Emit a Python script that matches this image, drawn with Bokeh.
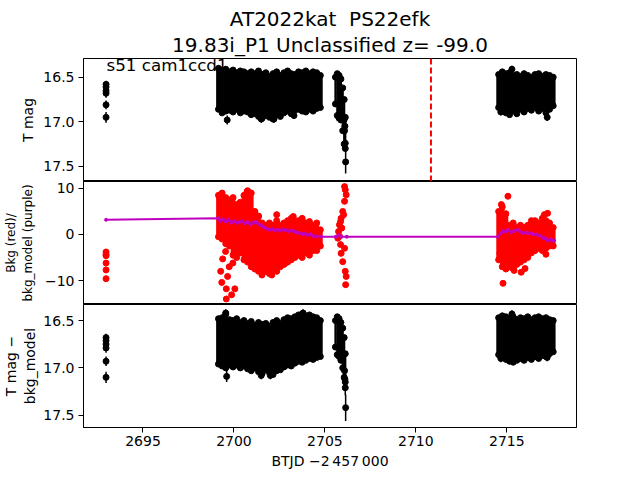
from bokeh.plotting import figure
from bokeh.layouts import column
from bokeh.models import Range1d, Title, Label, Span, FixedTicker
from bokeh.embed import file_html
from bokeh.resources import INLINE

# ---------------- data ----------------
TITLE1 = "AT2022kat\u00a0 PS22efk"
TITLE2 = "19.83i_P1 Unclassified z= -99.0"
CORNER = "s51 cam1ccd1"
XLABEL = "BTJD \u22122\u2009457\u2009000"
YLABEL1 = "T mag"
YLABEL2 = "Bkg (red)/\nbkg_model (purple)"
YLABEL3 = "T mag \u2212\nbkg_model"
X_TICKS = [2695, 2700, 2705, 2710, 2715]
MAG_TICKS = [16.5, 17.0, 17.5]
MAG_TICK_LABELS = ["16.5", "17.0", "17.5"]
BKG_TICKS = [-10, 0, 10]
BKG_TICK_LABELS = ["\u221210", "0", "10"]
EVENT_TIME = 2710.83

# early visit (single points with errors)
early_t = [2692.97, 2692.97, 2692.97, 2692.97, 2692.97, 2692.97]
early_mag = [16.58, 16.61, 16.65, 16.68, 16.81, 16.95]
early_err = [0.04, 0.04, 0.04, 0.05, 0.05, 0.06]
early_diff = [16.68, 16.71, 16.75, 16.79, 16.93, 17.10]
early_bkg = [-3.8, -4.6, -4.3, -6.2, -7.7, -9.6]

# dense block 1: time nodes with upper / lower envelope of the points
b1_t = [2699.15, 2699.35, 2699.55, 2699.75, 2699.95, 2700.15, 2700.35, 2700.55, 2700.75, 2700.95,
        2701.15, 2701.35, 2701.55, 2701.75, 2701.95, 2702.15, 2702.35, 2702.55, 2702.75, 2702.95,
        2703.15, 2703.35, 2703.55, 2703.75, 2703.95, 2704.15, 2704.35, 2704.55, 2704.75]
b1_mag_hi = [16.40, 16.42, 16.41, 16.44, 16.42, 16.45, 16.43, 16.44, 16.46, 16.44,
             16.46, 16.43, 16.47, 16.45, 16.49, 16.46, 16.44, 16.48, 16.45, 16.43,
             16.46, 16.47, 16.44, 16.45, 16.43, 16.46, 16.44, 16.45, 16.48]
b1_mag_lo = [16.86, 16.90, 16.88, 16.87, 16.89, 16.86, 16.90, 16.88, 16.89, 16.92,
             16.91, 16.94, 16.96, 16.93, 16.95, 16.97, 16.92, 16.94, 16.90, 16.88,
             16.91, 16.87, 16.86, 16.88, 16.89, 16.86, 16.88, 16.85, 16.84]
b1_diff_hi = [16.48, 16.47, 16.43, 16.49, 16.50, 16.48, 16.52, 16.50, 16.53, 16.51,
              16.55, 16.52, 16.54, 16.53, 16.56, 16.52, 16.50, 16.53, 16.49, 16.47,
              16.48, 16.46, 16.44, 16.43, 16.45, 16.44, 16.46, 16.47, 16.50]
b1_diff_lo = [16.96, 16.98, 17.00, 16.97, 16.99, 16.97, 17.00, 16.98, 17.01, 17.03,
              17.00, 17.04, 17.06, 17.02, 17.05, 17.07, 17.03, 17.02, 16.99, 16.97,
              16.98, 16.95, 16.93, 16.94, 16.92, 16.90, 16.91, 16.89, 16.88]
b1_bkg_hi = [8.5, 9.0, 8.0, 7.5, 8.0, 6.5, 7.0, 8.5, 9.5, 9.0,
             5.0, 4.0, 2.5, 2.0, 2.5, 2.0, 3.0, 2.0, 2.5, 3.0,
             3.5, 3.0, 3.0, 3.5, 2.5, 2.8, 2.0, 2.5, 1.0]
b1_bkg_lo = [-0.5, -1.0, -2.0, -2.5, -4.5, -5.0, -4.0, -5.5, -6.0, -7.0,
             -7.5, -8.0, -8.5, -8.0, -8.5, -7.5, -8.0, -7.0, -6.5, -6.0,
             -5.5, -5.0, -4.5, -5.0, -4.0, -4.5, -3.5, -3.5, -2.5]

# dense block 2 (short dip)
b2_t = [2705.58, 2705.68, 2705.78, 2705.88, 2705.98, 2706.06, 2706.12]
b2_mag_hi = [16.50, 16.46, 16.48, 16.52, 16.62, 16.75, 16.95]
b2_mag_lo = [16.80, 16.93, 16.96, 16.98, 17.10, 17.25, 17.30]
b2_diff_hi = [16.50, 16.46, 16.48, 16.52, 16.58, 16.68, 16.85]
b2_diff_lo = [16.78, 16.86, 16.88, 16.92, 17.00, 17.10, 17.15]

# dense block 3
b3_t = [2714.55, 2714.75, 2714.95, 2715.15, 2715.35, 2715.55, 2715.75, 2715.95,
        2716.15, 2716.35, 2716.55, 2716.75, 2716.95, 2717.15, 2717.35, 2717.55]
b3_mag_hi = [16.47, 16.44, 16.46, 16.45, 16.48, 16.47, 16.49, 16.46,
             16.48, 16.50, 16.47, 16.46, 16.49, 16.47, 16.48, 16.50]
b3_mag_lo = [16.84, 16.86, 16.90, 16.92, 16.88, 16.91, 16.86, 16.89,
             16.85, 16.87, 16.84, 16.88, 16.85, 16.90, 16.86, 16.82]
b3_diff_hi = [16.47, 16.45, 16.46, 16.48, 16.46, 16.49, 16.47, 16.48,
              16.46, 16.49, 16.47, 16.46, 16.48, 16.47, 16.49, 16.50]
b3_diff_lo = [16.86, 16.88, 16.91, 16.93, 16.94, 16.92, 16.90, 16.92,
              16.89, 16.91, 16.88, 16.90, 16.87, 16.88, 16.85, 16.83]
b3_bkg_hi = [5.0, 6.0, 4.5, 2.0, 2.5, 1.5, 2.0, 1.5, 2.0, 3.0, 3.0, 2.5, 3.5, 3.0, 2.5, 1.5]
b3_bkg_lo = [-5.5, -7.0, -7.5, -7.0, -7.5, -6.5, -6.0, -5.5, -5.0, -4.0, -3.5, -3.0, -3.5, -3.0, -2.5, -2.5]

# isolated points
mag_pts_t = [2699.63, 2701.5, 2702.2, 2703.3, 2706.05, 2706.08, 2706.10, 2706.12, 2706.14, 2715.28, 2714.67, 2717.22]
mag_pts = [16.98, 16.97, 16.97, 16.93, 16.98, 17.10, 17.05, 17.24, 17.45, 16.41, 16.89, 16.95]
mag_pts_err = [0.05, 0.04, 0.04, 0.04, 0.05, 0.06, 0.06, 0.08, 0.13, 0.04, 0.04, 0.04]
diff_pts_t = [2699.6, 2699.55, 2701.5, 2702.0, 2703.8, 2706.08, 2706.10, 2706.12, 2706.14, 2715.28, 2714.67, 2717.22]
diff_pts = [17.09, 16.42, 17.08, 17.08, 16.42, 17.03, 17.12, 17.21, 17.42, 16.43, 16.90, 16.89]
diff_pts_err = [0.06, 0.04, 0.04, 0.04, 0.04, 0.06, 0.06, 0.08, 0.14, 0.04, 0.04, 0.04]
bkg_pts_t = [2699.27, 2699.54, 2699.38, 2699.74, 2699.27, 2699.65, 2699.33, 2699.58, 2700.05, 2699.58,
             2699.87, 2699.94, 2700.72, 2702.35, 2703.26, 2701.35, 2701.26, 2701.54, 2702.08, 2702.81,
             2706.08, 2706.12, 2706.17, 2706.08, 2705.98, 2705.89, 2705.80, 2705.75, 2705.71, 2705.86,
             2705.89, 2705.98, 2706.12, 2706.17, 2706.14, 2705.80, 2705.93, 2706.03, 2705.86, 2706.08,
             2715.06, 2714.70, 2717.06, 2717.24, 2714.79, 2715.79, 2714.62, 2717.15, 2716.0, 2715.4]
bkg_pts = [8.6, -3.7, -5.3, -7.0, -8.0, -9.1, -10.4, -11.8, -11.8, -14.0,
           -13.1, -6.2, 9.3, 4.3, 3.9, 3.9, -7.3, -8.8, -8.8, -6.2,
           10.4, 9.7, 8.6, 7.2, 5.0, 3.5, 2.1, 0.65, -0.8, -2.2,
           -4.1, -5.9, -8.0, -9.1, -10.9, -0.4, 1.4, 4.3, 2.8, -3.0,
           8.3, 6.5, 4.3, 4.6, -10.6, -8.2, -4.1, -4.3, -7.4, -7.8]

# background model curve
model_t = [2692.97, 2699.14, 2699.25, 2699.4, 2699.55, 2699.7, 2699.85, 2700.0, 2700.15, 2700.3,
           2700.45, 2700.6, 2700.75, 2700.9, 2701.05, 2701.2, 2701.35, 2701.5, 2701.65, 2701.8,
           2701.95, 2702.1, 2702.25, 2702.4, 2702.55, 2702.7, 2702.85, 2703.0, 2703.15, 2703.3,
           2703.45, 2703.6, 2703.75, 2703.9, 2704.05, 2704.2, 2704.35, 2704.5, 2704.8, 2705.6,
           2705.75, 2705.9, 2706.2, 2714.52, 2714.65, 2714.79, 2714.92, 2715.06, 2715.24, 2715.42,
           2715.6, 2715.75, 2715.88, 2716.05, 2716.24, 2716.42, 2716.6, 2716.8, 2716.97, 2717.1,
           2717.24, 2717.4, 2717.51, 2717.6]
model_bkg = [3.2, 3.5, 2.9, 3.3, 2.8, 3.2, 2.6, 2.9, 2.5, 2.7,
             2.9, 2.4, 2.7, 2.2, 2.5, 2.7, 2.3, 2.0, 1.5, 1.3,
             1.0, 1.2, 0.9, 1.0, 0.8, 1.1, 0.9, 0.7, 0.9, 0.6,
             0.5, 0.3, 0.1, 0.2, -0.1, 0.1, -0.3, -0.4, -0.5, -0.5,
             -0.1, -0.5, -0.5, -0.5, 0.2, 0.8, 0.6, 1.0, 0.5, 0.8,
             1.0, 0.6, 0.3, 0.4, 0.3, 0.1, 0.0, -0.2, -0.7, -0.8,
             -1.3, -1.1, -1.3, -1.3]

# ---------------- styling helpers ----------------
FONT = "DejaVu Sans"
X_RANGE = Range1d(2691.73, 2718.83)
FRAME_H = 123
LEFT = 80
RIGHT = 56
WIDTH = LEFT + 496 + RIGHT


def make_fig(height, y_range, ticks, tick_labels, ylabel, top=0, bottom=0, show_x=False,
             label_size="14px", label_standoff=4):
    p = figure(width=WIDTH, height=height, x_range=X_RANGE, y_range=y_range,
               output_backend="svg", toolbar_location=None,
               min_border_left=LEFT, min_border_right=RIGHT,
               min_border_top=top, min_border_bottom=bottom)
    p.grid.visible = False
    p.outline_line_color = "black"
    p.outline_line_width = 1
    p.background_fill_color = "white"
    p.border_fill_color = "white"
    for ax in (p.xaxis[0], p.yaxis[0]):
        ax.major_tick_in = 0
        ax.major_tick_out = 5
        ax.minor_tick_line_color = None
        ax.axis_line_color = "black"
        ax.major_tick_line_color = "black"
        ax.major_label_text_font = FONT
        ax.major_label_text_font_size = "14px"
        ax.major_label_text_color = "black"
        ax.axis_label_text_font = FONT
        ax.axis_label_text_font_size = "14px"
        ax.axis_label_text_font_style = "normal"
        ax.axis_label_text_color = "black"
        ax.major_label_standoff = 4
        ax.axis_label_standoff = 4
    p.yaxis.ticker = FixedTicker(ticks=ticks)
    p.yaxis.major_label_overrides = dict(zip(ticks, tick_labels))
    p.yaxis.axis_label = ylabel
    p.yaxis.axis_label_text_font_size = label_size
    p.yaxis.axis_label_standoff = label_standoff
    p.xaxis.ticker = FixedTicker(ticks=X_TICKS)
    if show_x:
        p.xaxis.axis_label = XLABEL
        p.xaxis.major_label_standoff = 3
    else:
        p.xaxis.visible = False
    return p


def draw_block(p, t, hi, lo, color, size=6, width=0.26):
    p.vbar(x=t, top=hi, bottom=lo, width=width, fill_color=color, line_color=None)
    p.scatter(t, hi, size=size, color=color)
    p.scatter(t, lo, size=size, color=color)


def draw_err_points(p, t, m, e, color="black", size=6):
    lo = [a - b for a, b in zip(m, e)]
    hi = [a + b for a, b in zip(m, e)]
    p.segment(x0=t, y0=lo, x1=t, y1=hi, color=color, line_width=1.5)
    p.scatter(t, m, size=size, color=color)


# ---------------- panel 1: T mag ----------------
p1 = make_fig(FRAME_H + 58, Range1d(17.67, 16.29), MAG_TICKS, MAG_TICK_LABELS, YLABEL1, top=58,
              label_standoff=4)
p1.add_layout(Title(text=TITLE2, align="center", text_font=FONT, text_font_size="20px",
                    text_font_style="normal", text_color="black", standoff=4), "above")
p1.add_layout(Title(text=TITLE1, align="center", text_font=FONT, text_font_size="20px",
                    text_font_style="normal", text_color="black", standoff=-5), "above")
draw_err_points(p1, early_t, early_mag, early_err)
draw_block(p1, b1_t, b1_mag_hi, b1_mag_lo, "black")
draw_block(p1, b2_t, b2_mag_hi, b2_mag_lo, "black", width=0.12)
draw_block(p1, b3_t, b3_mag_hi, b3_mag_lo, "black")
draw_err_points(p1, mag_pts_t, mag_pts, mag_pts_err)
p1.add_layout(Span(location=EVENT_TIME, dimension="height", line_color="red",
                   line_width=2, line_dash="6 3"))
p1.add_layout(Label(x=23, y=FRAME_H - 6, x_units="screen", y_units="screen", text=CORNER,
                    text_font=FONT, text_font_size="16.7px", text_color="black",
                    text_baseline="alphabetic"))

# ---------------- panel 2: background ----------------
p2 = make_fig(FRAME_H, Range1d(-15.2, 11.5), BKG_TICKS, BKG_TICK_LABELS, YLABEL2,
              label_size="12px", label_standoff=7)
p2.scatter(early_t, early_bkg, size=6, color="red")
draw_block(p2, b1_t, b1_bkg_hi, b1_bkg_lo, "red")
draw_block(p2, b3_t, b3_bkg_hi, b3_bkg_lo, "red")
p2.scatter(bkg_pts_t, bkg_pts, size=6, color="red")
p2.line(model_t, model_bkg, color="#bf00bf", line_width=2)
p2.scatter(model_t, model_bkg, size=3, color="#bf00bf")

# ---------------- panel 3: T mag - bkg_model ----------------
p3 = make_fig(FRAME_H + 49, Range1d(17.63, 16.33), MAG_TICKS, MAG_TICK_LABELS, YLABEL3,
              bottom=49, show_x=True, label_standoff=2)
draw_err_points(p3, early_t, early_diff, early_err)
draw_block(p3, b1_t, b1_diff_hi, b1_diff_lo, "black")
draw_block(p3, b2_t, b2_diff_hi, b2_diff_lo, "black", width=0.12)
draw_block(p3, b3_t, b3_diff_hi, b3_diff_lo, "black")
draw_err_points(p3, diff_pts_t, diff_pts, diff_pts_err)

layout = column(p1, p2, p3, spacing=0)
open("out.html", "w").write(file_html(layout, INLINE))
